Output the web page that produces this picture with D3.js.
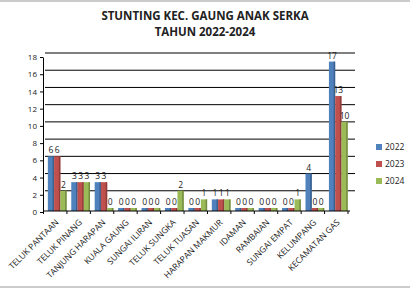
<!DOCTYPE html>
<html lang="en">
<head>
    <meta charset="UTF-8">
    <script src="https://cdn.jsdelivr.net/npm/d3@7"></script>
    <title>stunting</title>
    <style>
        body { margin: 0; background: #fff; }
        text { font-family: "Open Sans", sans-serif; fill: #222; }
        .title { font-weight: bold; font-size: 11.5px; }
        .grid line { stroke: #000; stroke-width: 1; }
    </style>
</head>
<body>
    <svg width="410" height="293"></svg>
    <script>
        // data
        var categories = ["TELUK PANTAAN", "TELUK PINANG", "TANJUNG HARAPAN", "KUALA GAUNG",
                          "SUNGAI ILIRAN", "TELUK SUNGKA", "TELUK TUASAN", "HARAPAN MAKMUR",
                          "IDAMAN", "RAMBAIAN", "SUNGAI EMPAT", "KELUMPANG", "KECAMATAN GAS"];
        var years = ["2022", "2023", "2024"];
        var v2022 = [6, 3, 3, 0, 0, 0, 0, 1, 0, 0, 0, 4, 17];
        var v2023 = [6, 3, 3, 0, 0, 0, 0, 1, 0, 0, 0, 0, 13];
        var v2024 = [2, 3, 0, 0, 0, 2, 1, 1, 0, 0, 1, 0, 10];
        var yTicks = [0, 2, 4, 6, 8, 10, 12, 14, 16, 18];
        var colors = ["#4F81BD", "#C0504D", "#9BBB59"];

        var series = [v2022, v2023, v2024];

        var svg = d3.select("svg");

        // frame lines top and bottom
        svg.append("rect").attr("x", -1).attr("y", 1).attr("width", 412).attr("height", 286)
           .attr("fill", "none").attr("stroke", "#bbb").attr("stroke-width", 1.5);

        svg.append("text").attr("class", "title").attr("x", 205).attr("y", 20)
           .attr("text-anchor", "middle").text("STUNTING KEC. GAUNG ANAK SERKA");
        svg.append("text").attr("class", "title").attr("x", 205).attr("y", 36)
           .attr("text-anchor", "middle").text("TAHUN 2022-2024");

        var y = d3.scaleLinear().domain([0, 18]).range([208, 53]);
        var x = d3.scaleBand().domain(categories).range([43.5, 348]).paddingInner(0.2).paddingOuter(0.1);
        var xs = d3.scaleBand().domain(years).range([0, x.bandwidth()]);
        var floorY = 211;

        // gridlines (back wall)
        svg.append("g").attr("class", "grid")
           .selectAll("line").data(yTicks.slice(1)).enter().append("line")
           .attr("x1", 45).attr("x2", 355)
           .attr("y1", function(d) { return y(d); })
           .attr("y2", function(d) { return y(d); });

        // y axis, labels sit a bit lower than the wall (3d)
        var yAxis = d3.axisLeft(y).tickValues(yTicks).tickSize(3).tickSizeOuter(0);
        var gy = svg.append("g").attr("transform", "translate(43,4)").call(yAxis);
        gy.select(".domain").attr("stroke", "#000");
        gy.selectAll(".tick line").attr("stroke", "#000");
        gy.selectAll("text").style("font-size", "8px").attr("fill", "#222").attr("x", -6);

        // bars
        years.forEach(function(yr, si) {
            var g = svg.append("g");
            g.selectAll("rect").data(series[si]).enter().append("rect")
             .attr("x", function(d, i) { return x(categories[i]) + xs(yr) + 2; })
             .attr("y", function(d) { return y(d); })
             .attr("width", xs.bandwidth())
             .attr("height", function(d) { return floorY - y(d); })
             .attr("fill", colors[si]);
            // darker side of each bar
            g.selectAll(".side").data(series[si]).enter().append("rect")
             .attr("x", function(d, i) { return x(categories[i]) + xs(yr) + 2 + xs.bandwidth() - 1.5; })
             .attr("y", function(d) { return y(d); })
             .attr("width", 1.5)
             .attr("height", function(d) { return floorY - y(d); })
             .attr("fill", d3.color(colors[si]).darker(0.8));
            g.selectAll("text").data(series[si]).enter().append("text")
             .attr("x", function(d, i) { return x(categories[i]) + xs(yr) + 2 + xs.bandwidth() / 2; })
             .attr("y", function(d) { return y(d) - 3; })
             .attr("text-anchor", "middle")
             .style("font-size", "8.5px")
             .text(function(d) { return d; });
        });

        // x axis
        svg.append("line").attr("x1", 43).attr("x2", 350).attr("y1", floorY).attr("y2", floorY)
           .attr("stroke", "#000");
        svg.append("g").selectAll("line").data(d3.range(categories.length + 1)).enter().append("line")
           .attr("x1", function(i) { return 43.5 + i * x.step(); })
           .attr("x2", function(i) { return 43.5 + i * x.step(); })
           .attr("y1", floorY).attr("y2", floorY + 3)
           .attr("stroke", "#000");

        svg.append("g").selectAll("text").data(categories).enter().append("text")
           .attr("transform", function(d) {
               return "translate(" + (x(d) + x.bandwidth() / 2 + 4) + "," + (floorY + 12) + ") rotate(-45)";
           })
           .attr("text-anchor", "end")
           .style("font-size", "8.5px")
           .text(function(d) { return d; });

        // legend
        var legend = svg.append("g").selectAll("g").data(years).enter().append("g")
           .attr("transform", function(d, i) { return "translate(376," + (144 + i * 17) + ")"; });
        legend.append("rect").attr("width", 6).attr("height", 6)
              .attr("fill", function(d, i) { return colors[i]; });
        legend.append("text").attr("x", 9).attr("y", 6).style("font-size", "8.5px")
              .text(function(d) { return d; });
    </script>
</body>
</html>
